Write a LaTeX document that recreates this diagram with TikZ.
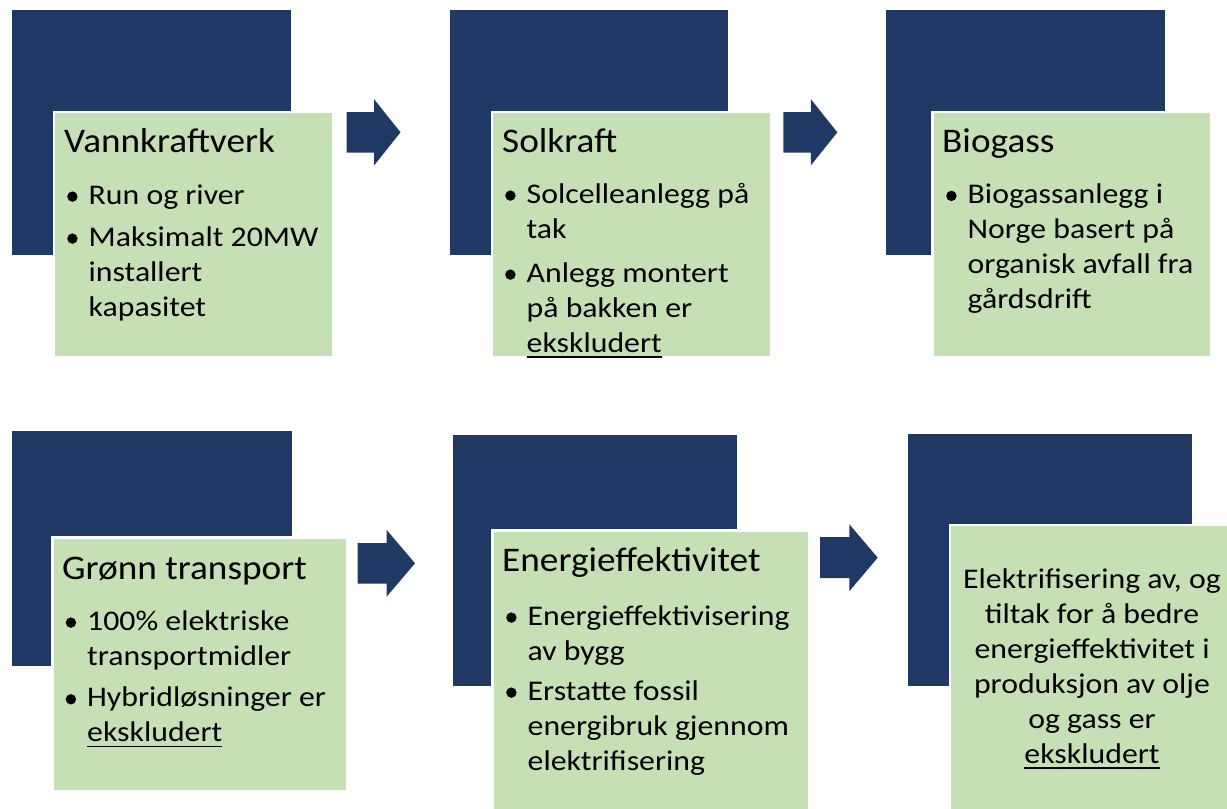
\documentclass[tikz,border=0pt]{standalone}
\usepackage{fontspec}
\setmainfont{Carlito}
\newfontfamily\bodyfont{Carlito}[FakeStretch=1.115]
\newfontfamily\titlefont{Carlito}[FakeStretch=1.08]
\definecolor{navy}{HTML}{203864}
\definecolor{lgreen}{HTML}{C5E0B4}
\newcommand\titl[1]{{\titlefont\fontsize{34.5}{42}\selectfont #1}}
\newcommand\bul[1]{\parbox[t]{360pt}{\bodyfont\fontsize{28.5}{35}\selectfont\hangindent=23.5pt\hangafter=1\hspace*{23.5pt}#1}}
\newcommand\ulin[1]{\leavevmode\setbox0\hbox{#1}\rlap{\rule[-5.6pt]{\wd0}{1.7pt}}\box0}
\tikzset{
  darkbox/.style={fill=navy, draw=white, line width=0.6pt, anchor=north west, inner sep=0pt, outer sep=0pt},
  greenbox/.style={fill=lgreen, draw=white, line width=2.5pt, anchor=north west, inner sep=0pt, outer sep=0pt},
  txt/.style={anchor=base west, inner sep=0pt, text=black},
  bulletdot/.style={circle, fill=black, inner sep=0pt, minimum size=10.4pt},
  arrowfill/.style={fill=navy, draw=none}
}
% bullet item: name, x, baseline y, text
\newcommand\bitem[4]{%
  \node[txt] (#1) at (#2,#3) {\bul{#4}};
  \node[bulletdot] (#1-dot) at ([xshift=7.4pt,yshift=7.4pt]#1.base west) {};
}
\begin{document}
\begin{tikzpicture}[x=1pt,y=-1pt]
\useasboundingbox (0,0) rectangle (1227,809);
\clip (0,0) rectangle (1227,809);
% ---- top row ----
\node[darkbox, minimum width=279.5pt, minimum height=246pt] (d1) at (11.5,9.5) {};
\node[greenbox, minimum width=279pt, minimum height=245.5pt] (g1) at (54,112) {};
\node[darkbox, minimum width=279.5pt, minimum height=246pt] (d2) at (449,9.5) {};
\node[greenbox, minimum width=279.5pt, minimum height=245.5pt] (g2) at (492,112) {};
\node[darkbox, minimum width=280pt, minimum height=246pt] (d3) at (885.7,9.5) {};
\node[greenbox, minimum width=279pt, minimum height=245.5pt] (g3) at (932.7,112) {};
% arrows top
\coordinate (a1) at (346.5,132.3);
\coordinate (a2) at (783.3,132.3);
\fill[arrowfill] (a1) ++(0,-20.2) -- ++(27.5,0) -- ++(0,-13) -- ++(26.5,33.2) -- ++(-26.5,33.2) -- ++(0,-13) -- ++(-27.5,0) -- cycle;
\fill[arrowfill] (a2) ++(0,-20.2) -- ++(27.5,0) -- ++(0,-13) -- ++(26.5,33.2) -- ++(-26.5,33.2) -- ++(0,-13) -- ++(-27.5,0) -- cycle;
% ---- bottom row ----
\node[darkbox, minimum width=280.7pt, minimum height=236.7pt] (d4) at (11.3,430) {};
\node[greenbox, minimum width=294.6pt, minimum height=254.2pt] (g4) at (52.7,537.5) {};
\node[darkbox, minimum width=285pt, minimum height=252.7pt] (d5) at (452.3,434) {};
\node[greenbox, minimum width=316.3pt, minimum height=290pt] (g5) at (492.7,530.7) {};
\node[darkbox, minimum width=285pt, minimum height=253.4pt] (d6) at (907,433.3) {};
\node[greenbox, minimum width=290pt, minimum height=290pt] (g6) at (950,525) {};
% arrows bottom
\coordinate (a3) at (357.7,563.3);
\coordinate (a4) at (820,557.7);
\fill[arrowfill] (a3) ++(0,-20.3) -- ++(29,0) -- ++(0,-13) -- ++(28.3,33.3) -- ++(-28.3,33.3) -- ++(0,-13) -- ++(-29,0) -- cycle;
\fill[arrowfill] (a4) ++(0,-20.5) -- ++(29.3,0) -- ++(0,-13) -- ++(28.4,33.5) -- ++(-28.4,33.5) -- ++(0,-13) -- ++(-29.3,0) -- cycle;
% ---- texts ----
\node[txt] (t1) at (64,152) {\titl{Vannkraftverk}};
\bitem{b11}{65}{204}{Run og river}
\bitem{b12}{65}{246}{Maksimalt 20MW\newline installert\newline kapasitet}
\node[txt] (t2) at (502,152) {\titl{Solkraft}};
\bitem{b21}{503}{203}{Solcelleanlegg på\newline tak}
\bitem{b22}{503}{282}{Anlegg montert\newline på bakken er\newline \ulin{ekskludert}}
\node[txt] (t3) at (942,152) {\titl{Biogass}};
\bitem{b31}{944}{203.3}{Biogassanlegg i\newline Norge basert på\newline organisk avfall fra\newline gårdsdrift}
\node[txt] (t4) at (62,579) {\titl{Grønn transport}};
\bitem{b41}{63.5}{630}{100\% elektriske\newline transportmidler}
\bitem{b42}{63.5}{706.7}{Hybridløsninger er\newline \ulin{ekskludert}}
\node[txt] (t5) at (502,571.7) {\titl{Energieffektivitet}};
\bitem{b51}{504}{625}{Energieffektivisering\newline av bygg}
\bitem{b52}{504}{700}{Erstatte fossil\newline energibruk gjennom\newline elektrifisering}
\node[anchor=base, inner sep=0pt] (t6) at (1092,588.3) {\parbox[t]{320pt}{\centering\bodyfont\fontsize{28.5}{35}\selectfont Elektrifisering av, og\\ tiltak for å bedre\\ energieffektivitet i\\ produksjon av olje\\ og gass er\\ \ulin{ekskludert}}};
\end{tikzpicture}
\end{document}
